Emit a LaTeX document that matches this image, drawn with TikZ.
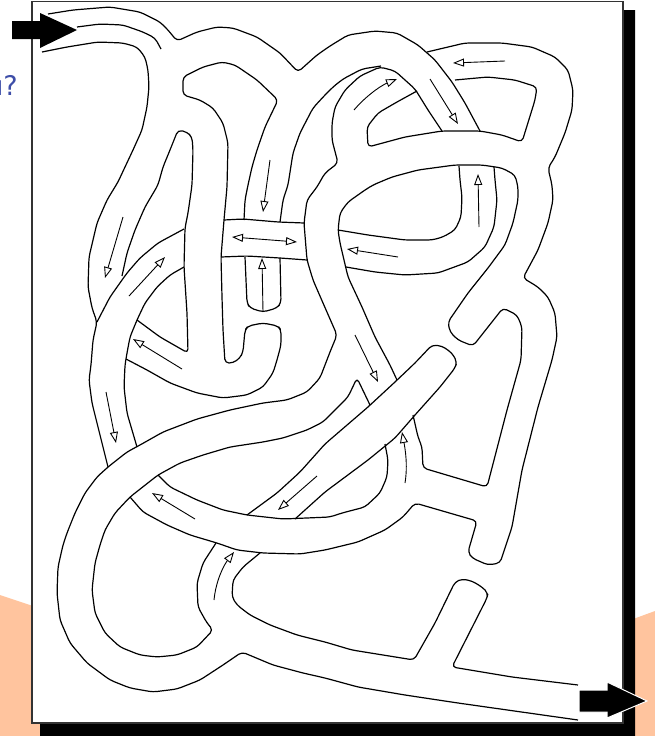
\documentclass[tikz,border=0pt]{standalone}
\usepackage{fontspec}
\usepackage{tikz}
\usetikzlibrary{arrows.meta}
\newfontfamily\hintfont{DejaVu Sans}
\definecolor{peach}{RGB}{255,196,158}
\definecolor{hintblue}{RGB}{62,78,168}

\begin{document}
\begin{tikzpicture}[
  x=1pt, y=-1pt,
  wall/.style={line width=1.2pt, rounded corners=4pt, line join=round},
  hint/.style={line width=0.9pt, -{Triangle[open,length=11pt,width=8pt]}},
  twoway/.style={line width=0.9pt, {Triangle[open,length=11pt,width=8pt]}-{Triangle[open,length=11pt,width=8pt]}},
  bigarrow/.style={fill=black, draw=white, line width=1pt, line join=miter}
]
\useasboundingbox (0,0) rectangle (655,736);

% backdrop, shadow and frame
\fill[peach] (0,595) -- (60,615) -- (60,736) -- (0,736) -- cycle;
\fill[peach] (625,622) -- (655,611) -- (655,736) -- (625,736) -- cycle;
\fill[black] (623,10) -- (635,10) -- (635,736) -- (40,736) -- (40,723) -- (623,723) -- cycle;
\draw[fill=white, line width=1.5pt, draw=black!80] (32,1.5) rectangle (623,723);

\node[text=hintblue, anchor=base east, font=\hintfont\fontsize{27}{31}\selectfont, inner sep=0pt] (question) at (18,95) {u?};

% walls
\draw[wall] (48,14) -- (73,10) -- (110,7) -- (140,12) -- (160,22) -- (168,30) -- (177,41) -- (197,32) -- (217,27) -- (233,28) -- (257,37) -- (280,53) -- (298,72) -- (317,55) -- (330,46) -- (348,35) -- (375,31) -- (397,33) -- (418,45) -- (435,60) -- (452,82) -- (465,103) -- (480,131);
\draw[wall] (77,27) -- (100,24) -- (123,25) -- (143,32) -- (155,38) -- (161,49);
\draw[wall] (42,52) -- (67,47) -- (98,42) -- (123,43) -- (137,47) -- (145,57) -- (148,70) -- (149,87) -- (147,107) -- (142,130) -- (133,150) -- (125,167) -- (118,182) -- (107,200) -- (97,223) -- (89,257) -- (88,287) -- (92,308) -- (97,322) -- (93,340) -- (91,365) -- (89,380) -- (92,403) -- (98,427) -- (108,467);
\draw[wall] (244,220) -- (245,200) -- (248,185) -- (252,167) -- (257,150) -- (265,127) -- (278,100) -- (257,80) -- (235,65) -- (222,62) -- (203,67) -- (183,77) -- (183,95) -- (200,100) -- (213,108) -- (223,123) -- (228,143) -- (227,187) -- (224,220) -- (221,257) -- (222,297) -- (223,330) -- (225,363) -- (233,363) -- (240,358) -- (243,352) -- (245,330) -- (248,326) -- (263,323) -- (278,326) -- (281,330) -- (281,345) -- (277,360) -- (273,373) -- (263,387) -- (247,395) -- (223,398) -- (197,393) -- (170,383) -- (147,370) -- (126,359);
\draw[wall] (122,276) -- (127,253) -- (135,230) -- (145,207) -- (158,185) -- (163,167) -- (170,150) -- (178,130) -- (187,132) -- (192,137) -- (193,150) -- (192,185) -- (188,213) -- (185,228) -- (184,267) -- (187,313) -- (188,353) -- (160,337) -- (137,320);
\draw[wall] (184,229) -- (158,243) -- (140,258) -- (127,273) -- (110,297) -- (97,322);
\draw[wall] (184,267) -- (170,275) -- (157,287) -- (145,303) -- (137,320) -- (130,337) -- (127,353) -- (125,365) -- (124,387) -- (127,413) -- (132,430) -- (137,447);
\draw[wall] (224,220) -- (243,219) -- (278,222) -- (304,223);
\draw[wall] (221,257) -- (247,256) -- (280,258) -- (307,260);
\draw[wall] (245,257) -- (246,280) -- (247,303) -- (250,308) -- (263,312) -- (277,308) -- (281,303) -- (280,258);
\draw[wall] (381,66) -- (362,69) -- (343,79) -- (333,87) -- (325,95) -- (313,108) -- (300,133) -- (293,153) -- (288,185) -- (283,200) -- (280,222);
\draw[wall] (442,131) -- (428,110) -- (415,89) -- (395,71) -- (380,67) -- (360,76) -- (345,90) -- (335,107) -- (332,123) -- (332,140) -- (338,163) -- (325,173) -- (317,187) -- (307,200) -- (304,223) -- (307,260) -- (313,280) -- (323,303) -- (337,335) -- (330,352) -- (325,365) -- (320,378) -- (307,392) -- (287,400) -- (263,403) -- (230,410) -- (197,419) -- (163,432) -- (140,445) -- (127,452) -- (108,467) -- (97,477) -- (85,493) -- (75,513) -- (67,533) -- (63,545) -- (58,567) -- (57,593) -- (60,620) -- (70,643) -- (87,663) -- (110,680) -- (130,688) -- (153,692) -- (177,689) -- (200,680) -- (223,665) -- (242,652) -- (273,665) -- (303,673) -- (325,678) -- (358,687) -- (405,695) -- (458,703) -- (578,720);
\draw[wall] (417,91) -- (397,102) -- (378,113) -- (367,127) -- (368,147) -- (405,137) -- (442,131) -- (480,131) -- (502,135) -- (522,142) -- (535,100) -- (537,87) -- (515,80) -- (488,77) -- (455,80);
\draw[wall] (427,52) -- (465,43) -- (502,43) -- (532,47) -- (555,57) -- (568,70) -- (573,90) -- (572,110) -- (565,133) -- (555,157) -- (548,168) -- (552,185) -- (553,200) -- (548,223) -- (538,250) -- (523,278) -- (538,287) -- (548,297) -- (555,313) -- (557,337) -- (552,360) -- (538,407) -- (522,470) -- (512,527) -- (500,563) -- (488,565) -- (472,558) -- (468,552) -- (477,521) -- (415,503) -- (403,517) -- (385,530) -- (358,542) -- (325,550) -- (300,554) -- (263,553) -- (237,550) -- (217,543) -- (190,535) -- (167,525) -- (143,512) -- (130,497);
\draw[wall] (397,380) -- (390,365) -- (375,337) -- (362,307) -- (348,277) -- (340,243) -- (338,230) -- (340,213) -- (348,202) -- (365,190) -- (373,185) -- (392,177) -- (418,170) -- (455,165) -- (482,165) -- (502,168) -- (515,175) -- (518,187) -- (518,200) -- (513,223) -- (505,245) -- (488,268) -- (468,293) -- (448,322) -- (450,332) -- (458,340) -- (473,346) -- (503,308) -- (517,315) -- (522,327) -- (521,360) -- (507,410) -- (487,487) -- (423,468) -- (422,447) -- (418,437) -- (413,415);
\draw[wall] (338,230) -- (368,235) -- (405,240) -- (432,240) -- (443,237) -- (455,230) -- (461,217) -- (462,197) -- (460,180) -- (459,166);
\draw[wall] (346,267) -- (375,272) -- (405,275) -- (438,273) -- (468,262) -- (485,247) -- (494,227) -- (497,200) -- (495,180) -- (494,167);
\draw[wall] (370,405) -- (357,378) -- (348,397) -- (335,410) -- (323,422) -- (307,430) -- (283,438) -- (263,442) -- (230,447) -- (203,455) -- (180,463) -- (158,475) -- (130,497) -- (115,513) -- (105,530) -- (100,545) -- (95,563) -- (92,590) -- (95,613) -- (105,633) -- (120,647) -- (140,655) -- (157,657) -- (177,655) -- (197,647) -- (213,630) -- (207,623) -- (198,607) -- (197,583) -- (203,563) -- (216,543);
\draw[wall] (158,475) -- (170,487) -- (197,500) -- (223,510) -- (247,515) -- (283,519) -- (330,517) -- (342,513) -- (365,507) -- (380,493) -- (387,477) -- (388,460) -- (385,444);
\draw[wall] (247,515) -- (277,493) -- (300,472) -- (325,444) -- (368,407) -- (395,382) -- (415,363) -- (432,345) -- (442,346) -- (452,353) -- (457,362) -- (455,368) -- (440,387) -- (415,415) -- (395,438) -- (368,460) -- (325,492) -- (295,519);
\draw[wall] (260,553) -- (243,567) -- (233,580) -- (232,597) -- (237,605) -- (250,615) -- (270,625) -- (297,635) -- (325,642) -- (352,650) -- (414,660) -- (435,623) -- (455,582) -- (462,579) -- (472,581) -- (482,587) -- (488,593) -- (487,598) -- (452,667) -- (512,677) -- (578,685);

% arrows in the corridors
\draw[hint] (123,217) -- (105,278);
\draw[hint] (129,296) -- (165,257);
\draw[hint] (182,369) -- (133,339);
\draw[hint] (270,160) -- (263,212);
\draw[twoway] (232,237) -- (297,242);
\draw[hint] (263,312) -- (262,258);
\draw[hint] (106,392) -- (116,443);
\draw[hint] (195,519) -- (152,493);
\draw[hint] (317,476) -- (278,510);
\draw[hint] (214,600) .. controls (216,580) and (224,565) .. (234,552);
\draw[hint] (355,335) -- (378,382);
\draw[hint] (405,483) .. controls (408,465) and (405,448) .. (402,432);
\draw[hint] (398,257) -- (347,249);
\draw[hint] (479,227) -- (478,174);
\draw[hint] (430,79) -- (458,124);
\draw[hint] (354,110) .. controls (365,97) and (380,86) .. (397,79);
\draw[hint] (505,61) -- (453,63);

% way in and way out
\fill (12,21) -- (40,21) -- (40,13) -- (77,30) -- (40,48) -- (40,39) -- (12,39) -- cycle;
\draw[bigarrow] (579,690) -- (607,690) -- (607,682) -- (647,701) -- (607,718) -- (607,712) -- (579,712) -- cycle;
\end{tikzpicture}
\end{document}
